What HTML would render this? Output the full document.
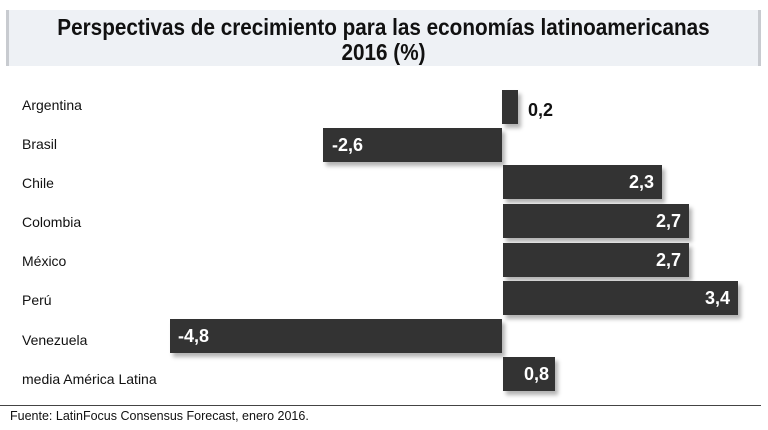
<!DOCTYPE html>
<html><head><meta charset="utf-8"><style>
body{margin:0;width:768px;height:430px;background:#fff;position:relative;overflow:hidden;font-family:"Liberation Sans",sans-serif}
.t{position:absolute;left:6px;top:10px;width:749px;height:56px;background:#eef1f5;border-left:3px solid #c8cbd0;border-right:3px solid #c8cbd0}
.t div{position:absolute;left:0;width:100%;text-align:center;font-weight:bold;font-size:23px;color:#111;transform:scaleX(0.9);line-height:26px}
.l{position:absolute;left:22px;font-size:14px;color:#111}
.b{position:absolute;height:34px;background:#333;box-shadow:3px 4px 4px rgba(0,0,0,.3)}
.v{position:absolute;font-weight:bold;font-size:18px;color:#fff;line-height:34px}
</style></head><body>
<div class="t"><div style="top:4px">Perspectivas de crecimiento para las economías latinoamericanas</div><div style="top:29px">2016 (%)</div></div>

<div class="l" style="top:97px">Argentina</div>
<div class="l" style="top:136px">Brasil</div>
<div class="l" style="top:175px">Chile</div>
<div class="l" style="top:214px">Colombia</div>
<div class="l" style="top:253px">México</div>
<div class="l" style="top:292px">Perú</div>
<div class="l" style="top:332px">Venezuela</div>
<div class="l" style="top:371px">media América Latina</div>

<div class="b" style="left:502px;width:16px;top:90px"></div>
<div class="v" style="left:528px;top:93px;color:#111">0,2</div>
<div class="b" style="left:323px;width:179px;top:128px"></div>
<div class="v" style="left:332px;top:128px">-2,6</div>
<div class="b" style="left:503px;width:159px;top:165px"></div>
<div class="v" style="left:503px;width:151px;text-align:right;top:165px">2,3</div>
<div class="b" style="left:503px;width:186px;top:204px"></div>
<div class="v" style="left:503px;width:178px;text-align:right;top:204px">2,7</div>
<div class="b" style="left:503px;width:186px;top:243px"></div>
<div class="v" style="left:503px;width:178px;text-align:right;top:243px">2,7</div>
<div class="b" style="left:503px;width:235px;top:281px"></div>
<div class="v" style="left:503px;width:227px;text-align:right;top:281px">3,4</div>
<div class="b" style="left:170px;width:332px;top:319px"></div>
<div class="v" style="left:178px;top:319px">-4,8</div>
<div class="b" style="left:503px;width:52px;top:357px"></div>
<div class="v" style="left:503px;width:46px;text-align:right;top:357px">0,8</div>

<div style="position:absolute;left:0;top:405px;width:761px;height:1px;background:#444"></div>
<div style="position:absolute;left:10px;top:409px;font-size:12.5px;color:#111">Fuente: LatinFocus Consensus Forecast, enero 2016.</div>
</body></html>
